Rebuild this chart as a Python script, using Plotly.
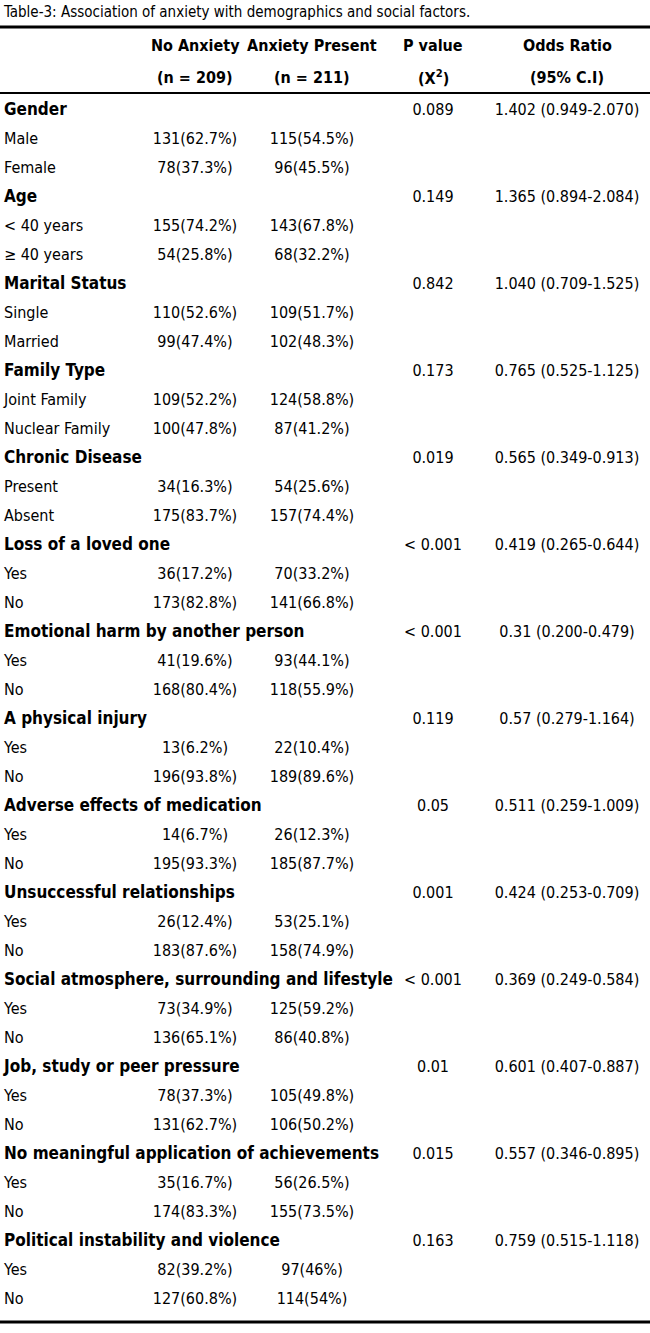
import plotly.graph_objects as go

title = "Table-3: Association of anxiety with demographics and social factors."
col_heads = ["No Anxiety", "Anxiety Present", "P value", "Odds Ratio"]
col_subheads = ["(n = 209)", "(n = 211)", "(X<sup>2</sup>)", "(95% C.I)"]

categories = [
    "Gender", "Age", "Marital Status", "Family Type", "Chronic Disease",
    "Loss of a loved one", "Emotional harm by another person", "A physical injury",
    "Adverse effects of medication", "Unsuccessful relationships",
    "Social atmosphere, surrounding and lifestyle", "Job, study or peer pressure",
    "No meaningful application of achievements", "Political instability and violence",
]
levels = [
    ["Male", "Female"], ["< 40 years", "\u2265 40 years"], ["Single", "Married"],
    ["Joint Family", "Nuclear Family"], ["Present", "Absent"], ["Yes", "No"],
    ["Yes", "No"], ["Yes", "No"], ["Yes", "No"], ["Yes", "No"], ["Yes", "No"],
    ["Yes", "No"], ["Yes", "No"], ["Yes", "No"],
]
no_anx_n = [[131, 78], [155, 54], [110, 99], [109, 100], [34, 175], [36, 173],
            [41, 168], [13, 196], [14, 195], [26, 183], [73, 136], [78, 131],
            [35, 174], [82, 127]]
no_anx_pct = [[62.7, 37.3], [74.2, 25.8], [52.6, 47.4], [52.2, 47.8], [16.3, 83.7],
              [17.2, 82.8], [19.6, 80.4], [6.2, 93.8], [6.7, 93.3], [12.4, 87.6],
              [34.9, 65.1], [37.3, 62.7], [16.7, 83.3], [39.2, 60.8]]
anx_n = [[115, 96], [143, 68], [109, 102], [124, 87], [54, 157], [70, 141],
         [93, 118], [22, 189], [26, 185], [53, 158], [125, 86], [105, 106],
         [56, 155], [97, 114]]
anx_pct = [[54.5, 45.5], [67.8, 32.2], [51.7, 48.3], [58.8, 41.2], [25.6, 74.4],
           [33.2, 66.8], [44.1, 55.9], [10.4, 89.6], [12.3, 87.7], [25.1, 74.9],
           [59.2, 40.8], [49.8, 50.2], [26.5, 73.5], [46, 54]]
p_values = ["0.089", "0.149", "0.842", "0.173", "0.019", "< 0.001", "< 0.001",
            "0.119", "0.05", "0.001", "< 0.001", "0.01", "0.015", "0.163"]
odds_ratio = ["1.402 (0.949-2.070)", "1.365 (0.894-2.084)", "1.040 (0.709-1.525)",
              "0.765 (0.525-1.125)", "0.565 (0.349-0.913)", "0.419 (0.265-0.644)",
              "0.31 (0.200-0.479)", "0.57 (0.279-1.164)", "0.511 (0.259-1.009)",
              "0.424 (0.253-0.709)", "0.369 (0.249-0.584)", "0.601 (0.407-0.887)",
              "0.557 (0.346-0.895)", "0.759 (0.515-1.118)"]

# ---- build rows ----
cat_y, cat_txt = [], []
lvl_y, lvl_txt, c1, c2 = [], [], [], []
row = 0
for i, cat in enumerate(categories):
    cat_y.append(row)
    cat_txt.append(cat)
    row += 1
    for j, lv in enumerate(levels[i]):
        lvl_y.append(row)
        lvl_txt.append(lv)
        c1.append(f"{no_anx_n[i][j]}({no_anx_pct[i][j]:g}%)")
        c2.append(f"{anx_n[i][j]}({anx_pct[i][j]:g}%)")
        row += 1
n_rows = row

# layout geometry in pixels
W, H = 650, 1333
first_px, last_px = 111, 1300
rh = (last_px - first_px) / (n_rows - 1)


def py(px):
    return (px - first_px) / rh


FONT = "Liberation Sans Narrow, DejaVu Sans Condensed, Arial Narrow, sans-serif"
FS = 16
col_x = [195, 312, 433, 567]

fig = go.Figure()
fig.add_trace(go.Scatter(x=[4] * len(cat_y), y=cat_y, text=cat_txt, mode="text",
                         textposition="middle right",
                         textfont=dict(family=FONT, size=17, color="black", weight="bold")))
fig.add_trace(go.Scatter(x=[4] * len(lvl_y), y=lvl_y, text=lvl_txt, mode="text",
                         textposition="middle right",
                         textfont=dict(family=FONT, size=FS, color="black")))
fig.add_trace(go.Scatter(x=[col_x[0]] * len(lvl_y), y=lvl_y, text=c1, mode="text",
                         textposition="middle center",
                         textfont=dict(family=FONT, size=FS, color="black")))
fig.add_trace(go.Scatter(x=[col_x[1]] * len(lvl_y), y=lvl_y, text=c2, mode="text",
                         textposition="middle center",
                         textfont=dict(family=FONT, size=FS, color="black")))
fig.add_trace(go.Scatter(x=[col_x[2]] * len(cat_y), y=cat_y, text=p_values, mode="text",
                         textposition="middle center",
                         textfont=dict(family=FONT, size=FS, color="black")))
fig.add_trace(go.Scatter(x=[col_x[3]] * len(cat_y), y=cat_y, text=odds_ratio, mode="text",
                         textposition="middle center",
                         textfont=dict(family=FONT, size=FS, color="black")))

# header
for k in range(4):
    fig.add_annotation(x=col_x[k], y=py(45), text=col_heads[k], showarrow=False,
                       font=dict(family=FONT, size=FS, color="black", weight="bold"))
    fig.add_annotation(x=col_x[k], y=py(77), text=col_subheads[k], showarrow=False,
                       font=dict(family=FONT, size=FS, color="black", weight="bold"))

fig.add_annotation(x=1, y=py(12), text=title, showarrow=False, xanchor="left",
                   font=dict(family=FONT, size=FS - 1, color="black"))

# rules
for ypx, lw in [(27, 3), (93, 2), (1322, 3)]:
    fig.add_shape(type="line", x0=0, x1=W, y0=py(ypx), y1=py(ypx),
                  line=dict(color="black", width=lw))

fig.update_layout(
    width=W, height=H, margin=dict(l=0, r=0, t=0, b=0),
    paper_bgcolor="white", plot_bgcolor="white", showlegend=False,
    xaxis=dict(range=[0, W], visible=False, fixedrange=True),
    yaxis=dict(range=[py(H), py(0)], visible=False, fixedrange=True),
)
fig.write_html("out.html", config={"displayModeBar": False},
               post_script="document.body.style.margin='0';")
